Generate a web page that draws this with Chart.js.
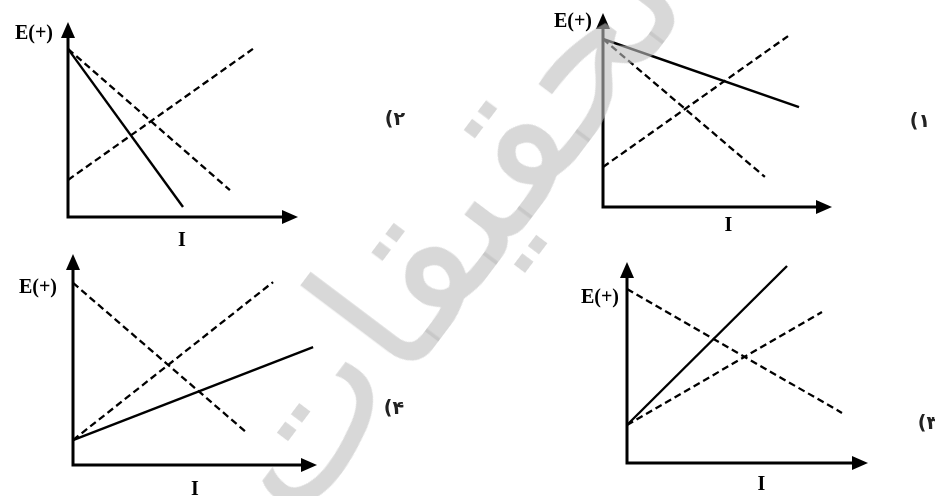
<!DOCTYPE html>
<html>
<head>
<meta charset="utf-8">
<script src="https://cdn.jsdelivr.net/npm/chart.js@4.4.1/dist/chart.umd.min.js"></script>
<style>
  html, body { margin: 0; padding: 0; background: #fff; }
  #wrap { position: relative; width: 935px; height: 496px; overflow: hidden; }
  #wrap canvas { position: absolute; left: 0; top: 0; }
  #mark {
    position: absolute; left: 245px; top: 490px;
    transform-origin: 0 50%;
    transform: translate(0, -50%) rotate(-53deg);
    font: 190px "DejaVu Sans"; direction: rtl; white-space: nowrap; line-height: 1;
    color: rgba(190, 190, 190, 0.6); pointer-events: none;
  }
</style>
</head>
<body>
<div id="wrap">
  <canvas id="panel1" width="935" height="496"></canvas>
  <canvas id="panel2" width="935" height="496"></canvas>
  <canvas id="panel3" width="935" height="496"></canvas>
  <canvas id="panel4" width="935" height="496"></canvas>
  <div id="mark">موسسه تحقیقات</div>
</div>
<script>
// every axis runs 0..10 (I along x, E(+) up y)
const axisMax = 10;
const yTitle = 'E(+)';
const xTitle = 'I';
const panelLabels = ['(۱', '(۲', '(۳', '(۴'];

// panel 1 (top right)
const p1Solid = [{x: 0, y: 8.66}, {x: 8.56, y: 5.15}];
const p1DashDown = [{x: 0, y: 8.66}, {x: 7.07, y: 1.55}];
const p1DashUp = [{x: 0, y: 2.06}, {x: 8.08, y: 8.81}];

// panel 2 (top left)
const p2Solid = [{x: 0, y: 8.62}, {x: 5.0, y: 0.51}];
const p2DashDown = [{x: 0, y: 8.62}, {x: 7.04, y: 1.38}];
const p2DashUp = [{x: 0, y: 1.9}, {x: 8.04, y: 8.62}];

// panel 3 (bottom right)
const p3Solid = [{x: 0, y: 1.89}, {x: 6.64, y: 9.8}];
const p3DashDown = [{x: 0, y: 8.66}, {x: 8.92, y: 2.49}];
const p3DashUp = [{x: 0, y: 1.89}, {x: 8.09, y: 7.51}];

// panel 4 (bottom left)
const p4Solid = [{x: 0, y: 1.18}, {x: 9.84, y: 5.59}];
const p4DashDown = [{x: 0, y: 8.63}, {x: 7.13, y: 1.52}];
const p4DashUp = [{x: 0, y: 1.18}, {x: 8.2, y: 8.67}];

// axes with arrow heads, plus the axis texts
const arrowAxes = {
  id: 'arrowAxes',
  afterDatasetsDraw(chart, args, opts) {
    const { ctx, scales: { x, y } } = chart;
    const x0 = x.getPixelForValue(0), x1 = x.getPixelForValue(axisMax);
    const y0 = y.getPixelForValue(0), y1 = y.getPixelForValue(axisMax);
    ctx.save();
    ctx.strokeStyle = '#000';
    ctx.fillStyle = '#000';
    ctx.lineWidth = 3;
    ctx.beginPath();
    ctx.moveTo(x0, y1 + 10);
    ctx.lineTo(x0, y0);
    ctx.lineTo(x1 - 10, y0);
    ctx.stroke();

    ctx.beginPath();
    ctx.moveTo(x0, y1);
    ctx.lineTo(x0 - 7, y1 + 16);
    ctx.lineTo(x0 + 7, y1 + 16);
    ctx.closePath();
    ctx.fill();
    ctx.beginPath();
    ctx.moveTo(x1, y0);
    ctx.lineTo(x1 - 16, y0 - 7);
    ctx.lineTo(x1 - 16, y0 + 7);
    ctx.closePath();
    ctx.fill();

    ctx.font = 'bold 20px "Liberation Serif"';
    ctx.textBaseline = 'middle';
    ctx.textAlign = 'right';
    ctx.fillText(yTitle, x0 + opts.eDx, y1 + opts.eDy);
    ctx.textAlign = 'center';
    ctx.fillText(xTitle, (x0 + x1) / 2 + opts.iDx, y0 + opts.iDy);

    ctx.font = 'bold 19px "DejaVu Sans"';
    ctx.fillStyle = '#222';
    ctx.fillText(opts.label, opts.labelX, opts.labelY);
    ctx.restore();
  }
};

const line = (data, dashed) => ({
  data: data,
  showLine: true,
  borderColor: '#000',
  borderWidth: dashed ? 2.3 : 2.4,
  borderDash: dashed ? [7, 4] : [],
  pointRadius: 0,
  fill: false,
  clip: false
});

const makePanel = (id, area, sets, texts) => {
  new Chart(document.getElementById(id), {
    type: 'scatter',
    data: { datasets: sets },
    options: {
      responsive: false,
      animation: false,
      layout: {
        padding: { left: area[0], top: area[1], right: 935 - area[2], bottom: 496 - area[3] }
      },
      scales: {
        x: { type: 'linear', min: 0, max: axisMax, display: false },
        y: { type: 'linear', min: 0, max: axisMax, display: false }
      },
      plugins: {
        legend: { display: false },
        tooltip: { enabled: false },
        arrowAxes: texts
      }
    },
    plugins: [arrowAxes]
  });
};

makePanel('panel1', [603, 13, 832, 207],
  [line(p1Solid, false), line(p1DashDown, true), line(p1DashUp, true)],
  { eDx: -11, eDy: 9, iDx: 11, iDy: 19, label: panelLabels[0], labelX: 920, labelY: 122 });

makePanel('panel2', [68, 22, 298, 217],
  [line(p2Solid, false), line(p2DashDown, true), line(p2DashUp, true)],
  { eDx: -15, eDy: 12, iDx: -1, iDy: 24, label: panelLabels[1], labelX: 395, labelY: 120 });

makePanel('panel3', [627, 262, 868, 463],
  [line(p3Solid, false), line(p3DashDown, true), line(p3DashUp, true)],
  { eDx: -8, eDy: 36, iDx: 14, iDy: 22, label: panelLabels[2], labelX: 928, labelY: 424 });

makePanel('panel4', [73, 254, 317, 465],
  [line(p4Solid, false), line(p4DashDown, true), line(p4DashUp, true)],
  { eDx: -16, eDy: 34, iDx: 0, iDy: 25, label: panelLabels[3], labelX: 394, labelY: 409 });
</script>
</body>
</html>
